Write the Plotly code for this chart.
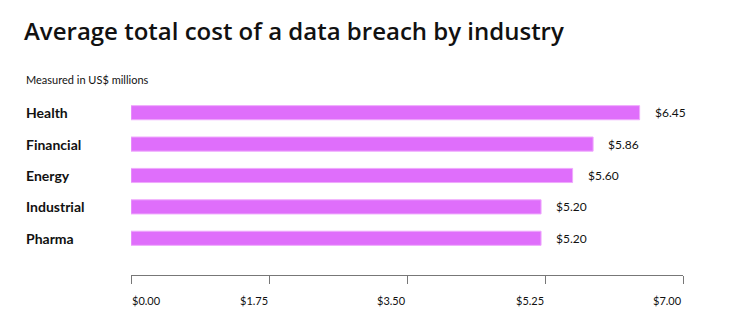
import plotly.graph_objects as go

# Average total cost of a data breach, US$ millions
industries = ["Health", "Financial", "Energy", "Industrial", "Pharma"]
costs = [6.45, 5.86, 5.60, 5.20, 5.20]
tick_values = [0.0, 1.75, 3.50, 5.25, 7.00]
tick_labels = ["$0.00", "$1.75", "$3.50", "$5.25", "$7.00"]

W, H = 743, 330
L, R, T, B = 131, 60, 97, 55
plot_w = W - L - R

BAR = "#DF6EFB"
INK = "#111111"
BODY_FONT = "Lato"

fig = go.Figure(
    go.Bar(
        x=costs,
        y=industries,
        orientation="h",
        width=0.45,
        marker=dict(color=BAR, line=dict(color="#EFA8FD", width=1)),
        hoverinfo="skip",
    )
)

annotations = []

# Value labels after each bar
for name, val in zip(industries, costs):
    annotations.append(dict(
        x=val, y=name, xref="x", yref="y", text=f"${val:.2f}",
        showarrow=False, xanchor="left", yanchor="middle", xshift=13,
        font=dict(family=BODY_FONT, size=12, color=INK),
    ))

# Category labels flush left
for name in industries:
    annotations.append(dict(
        x=(24 - L) / plot_w, y=name, xref="paper", yref="y", text=f"<b>{name}</b>",
        showarrow=False, xanchor="left", yanchor="middle",
        font=dict(family=BODY_FONT, size=14, color=INK),
    ))

# Axis tick labels: first one starts at its tick, the rest end at theirs
for i, (tv, tl) in enumerate(zip(tick_values, tick_labels)):
    annotations.append(dict(
        x=tv, y=0, xref="x", yref="paper", text=tl,
        showarrow=False, xanchor="left" if i == 0 else "right", yanchor="middle",
        yshift=-25, xshift=-1 if i == 0 else 1,
        font=dict(family=BODY_FONT, size=11, color=INK),
    ))

# Subtitle
annotations.append(dict(
    x=(24 - L) / plot_w, y=1 + (T - 79) / (H - T - B), xref="paper", yref="paper",
    text="Measured in US$ millions", showarrow=False,
    xanchor="left", yanchor="middle",
    font=dict(family=BODY_FONT, size=11, color=INK),
))

fig.update_layout(
    width=W, height=H,
    margin=dict(l=L, r=R, t=T, b=B, pad=0),
    paper_bgcolor="white", plot_bgcolor="white",
    showlegend=False,
    title=dict(
        text="Average total cost of a data breach by industry",
        x=24 / W, xanchor="left", y=1 - 32 / H, yanchor="middle",
        font=dict(family="Open Sans", size=24, weight=600, color=INK),
    ),
    xaxis=dict(
        range=[0, 7], tickvals=tick_values, showticklabels=False,
        showgrid=False, zeroline=False,
        showline=True, linecolor="#777777", linewidth=1,
        ticks="outside", ticklen=8, tickcolor="#777777", tickwidth=1,
    ),
    yaxis=dict(
        categoryorder="array", categoryarray=industries,
        range=[5.17, -0.5], showticklabels=False,
        showgrid=False, zeroline=False, showline=False,
    ),
    annotations=annotations,
)

fig.write_html("out.html")
